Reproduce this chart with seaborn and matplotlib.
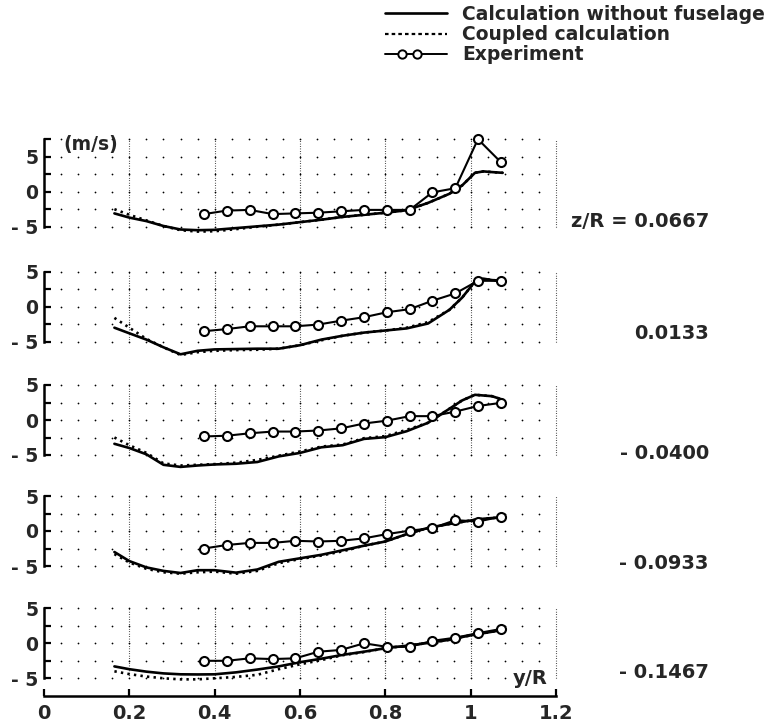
import numpy as np
import pandas as pd
import matplotlib
matplotlib.use("Agg")
import matplotlib.pyplot as plt
from matplotlib.lines import Line2D
from matplotlib.legend_handler import HandlerBase
import seaborn as sns

# ---------------- data ----------------
z_labels = ["z/R = 0.0667", "0.0133", "- 0.0400", "- 0.0933", "- 0.1467"]

exp_x = [0.375, 0.428, 0.482, 0.536, 0.589, 0.643, 0.696, 0.750, 0.803, 0.857, 0.910, 0.964, 1.017, 1.071]
exp_1 = [-3.2, -2.7, -2.6, -3.2, -3.1, -3.0, -2.8, -2.6, -2.6, -2.6, -0.1, 0.5, 7.5, 4.2]
exp_2 = [-3.5, -3.2, -2.8, -2.8, -2.8, -2.55, -2.0, -1.5, -0.8, -0.35, 0.85, 1.9, 3.7, 3.7]
exp_3 = [-2.35, -2.25, -1.9, -1.65, -1.65, -1.5, -1.2, -0.5, -0.1, 0.55, 0.55, 1.2, 2.0, 2.45]
exp_4 = [-2.5, -2.0, -1.7, -1.7, -1.4, -1.5, -1.4, -1.05, -0.45, 0.05, 0.4, 1.55, 1.35, 2.05]
exp_5 = [-2.5, -2.5, -2.15, -2.25, -2.15, -1.2, -0.95, 0.0, -0.5, -0.5, 0.35, 0.8, 1.45, 2.05]

calc_x = [0.165, 0.20, 0.24, 0.28, 0.32, 0.36, 0.40, 0.45, 0.50, 0.55, 0.60, 0.65,
          0.70, 0.75, 0.80, 0.85, 0.90, 0.95, 0.98, 1.01, 1.03, 1.05, 1.075]

nofus_1 = [-3.1, -3.7, -4.2, -4.9, -5.4, -5.5, -5.45, -5.2, -4.95, -4.7, -4.35, -4.0,
           -3.6, -3.3, -3.0, -2.65, -1.6, -0.3, 0.9, 2.7, 2.9, 2.8, 2.7]
coup_1 = [-2.5, -3.3, -4.1, -4.9, -5.5, -5.7, -5.65, -5.35, -5.0, -4.7, -4.35, -4.0,
          -3.6, -3.3, -3.0, -2.65, -1.6, -0.3, 0.9, 2.7, 2.9, 2.8, 2.7]

nofus_2 = [-3.0, -3.8, -4.7, -5.8, -6.8, -6.3, -6.1, -6.05, -6.0, -6.0, -5.5, -4.7,
           -4.15, -3.7, -3.4, -3.1, -2.4, -0.45, 1.3, 3.6, 4.0, 3.8, 3.7]
coup_2 = [-1.6, -3.0, -4.6, -5.8, -6.9, -6.5, -6.3, -6.2, -6.15, -6.0, -5.5, -4.8,
          -4.15, -3.7, -3.4, -3.0, -2.2, -0.45, 1.3, 3.6, 4.0, 3.8, 3.7]

nofus_3 = [-3.4, -4.0, -4.9, -6.4, -6.7, -6.5, -6.35, -6.25, -6.0, -5.2, -4.7, -3.9,
           -3.6, -2.7, -2.45, -1.6, -0.4, 1.6, 2.8, 3.6, 3.5, 3.4, 2.9]
coup_3 = [-2.5, -3.6, -4.7, -6.2, -6.5, -6.4, -6.3, -6.1, -5.7, -5.1, -4.5, -3.8,
          -3.5, -2.6, -2.3, -1.4, -0.4, 1.6, 2.8, 3.6, 3.5, 3.4, 2.9]

nofus_4 = [-3.0, -4.3, -5.2, -5.7, -6.0, -5.6, -5.6, -5.95, -5.5, -4.4, -3.9, -3.4,
           -2.75, -2.1, -1.5, -0.45, 0.45, 1.0, 1.3, 1.6, 1.75, 1.85, 1.95]
coup_4 = [-3.3, -4.5, -5.4, -5.9, -6.1, -5.9, -5.8, -6.1, -5.7, -4.6, -4.0, -3.5,
          -2.9, -2.1, -1.5, -0.45, 0.45, 1.0, 1.3, 1.6, 1.75, 1.85, 1.95]

nofus_5 = [-3.3, -3.7, -4.05, -4.3, -4.43, -4.45, -4.43, -4.15, -3.75, -3.3, -2.7, -2.2,
           -1.65, -1.2, -0.7, -0.35, 0.05, 0.5, 0.9, 1.25, 1.45, 1.65, 1.9]
coup_5 = [-4.0, -4.4, -4.75, -5.0, -5.15, -5.15, -5.0, -4.8, -4.5, -3.7, -3.0, -2.4,
          -1.7, -1.25, -0.7, -0.35, 0.05, 0.5, 0.9, 1.25, 1.45, 1.65, 1.9]

x_ticks = [0, 0.2, 0.4, 0.6, 0.8, 1.0, 1.2]
x_ticklabels = ["0", "0.2", "0.4", "0.6", "0.8", "1", "1.2"]
y_ticks = [-5, -2.5, 0, 2.5, 5]
y_ticklabels = ["- 5", "", "0", "", "5"]
legend_labels = ["Calculation without fuselage", "Coupled calculation", "Experiment"]

exp_all = [exp_1, exp_2, exp_3, exp_4, exp_5]
nofus_all = [nofus_1, nofus_2, nofus_3, nofus_4, nofus_5]
coup_all = [coup_1, coup_2, coup_3, coup_4, coup_5]

# ---------------- layout ----------------
W, H = 767, 727
sns.set_theme(style="white")
plt.rcParams['font.family'] = ['DejaVu Sans']
plt.rcParams['font.weight'] = 'bold'

fig = plt.figure(figsize=(W / 100, H / 100), dpi=100)

zero_px = [191.7, 306.7, 420.0, 531.0, 643.3]   # pixel row of value 0 in each panel
px_per_unit_y = 7.0
ylim = 8.0
x0_px = 44.0
px_per_unit_x = 426.7
xmax = 1.25
label_y = [-4.3, -3.9, -4.8, -4.6, -4.2]

DOT = (0, (0.9, 1.6))
lw_calc = 1.9
for i in range(5):
    h_px = 2 * ylim * px_per_unit_y
    bottom = (H - zero_px[i] - h_px / 2) / H
    ax = fig.add_axes([x0_px / W, bottom, xmax * px_per_unit_x / W, h_px / H])
    ax.set_facecolor("none")
    ax.set_xlim(0, xmax)
    ax.set_ylim(-ylim, ylim)

    top = 7.5 if i == 0 else 5.0
    for xv in x_ticks[1:]:
        ax.plot([xv, xv], [-5, top], color="black", lw=0.8, ls=(0, (0.6, 1.6)), zorder=1)
    gx = [round(0.04 * k, 2) for k in range(1, 30)]
    gy = list(np.arange(-5, top + 0.1, 2.5))
    GX, GY = np.meshgrid(gx, gy)
    ax.scatter(GX.ravel(), GY.ravel(), s=1.6, color="black", linewidths=0, zorder=1)

    df_c = pd.DataFrame({"x": calc_x, "nofus": nofus_all[i], "coup": coup_all[i]})
    sns.lineplot(data=df_c, x="x", y="nofus", ax=ax, color="black", lw=lw_calc,
                 estimator=None, sort=False, zorder=3)
    sns.lineplot(data=df_c, x="x", y="coup", ax=ax, color="black", lw=lw_calc,
                 ls=DOT, estimator=None, sort=False, zorder=3)
    df_e = pd.DataFrame({"x": exp_x, "v": exp_all[i]})
    sns.lineplot(data=df_e, x="x", y="v", ax=ax, color="black", lw=1.5,
                 marker="o", markersize=6.5, markerfacecolor="white",
                 markeredgecolor="black", markeredgewidth=1.5,
                 estimator=None, sort=False, zorder=4)
    for ln in ax.lines:
        ln.set_clip_on(False)

    ax.set_xlabel("")
    ax.set_ylabel("")
    for s in ["top", "right"]:
        ax.spines[s].set_visible(False)
    ax.spines["left"].set_bounds(-5, top)
    ax.spines["left"].set_linewidth(1.8)
    ax.spines["left"].set_color("black")
    yt = y_ticks + ([7.5] if i == 0 else [])
    ytl = y_ticklabels + ([""] if i == 0 else [])
    ax.set_yticks(yt)
    ax.set_yticklabels(ytl, fontsize=13.5, fontweight="bold")
    ax.tick_params(axis="y", direction="in", length=5, width=1.6, pad=4, left=True, color="black")

    if i < 4:
        ax.spines["bottom"].set_visible(False)
        ax.set_xticks([])
    else:
        ax.spines["bottom"].set_position(("data", -7.5))
        ax.spines["bottom"].set_bounds(0, 1.2)
        ax.spines["bottom"].set_linewidth(1.8)
        ax.spines["bottom"].set_color("black")
        ax.set_xticks(x_ticks)
        ax.set_xticklabels(x_ticklabels, fontsize=14, fontweight="bold")
        ax.tick_params(axis="x", direction="in", length=5, width=1.6, pad=6, bottom=True, color="black")
        ax.text(1.18, -5.1, "y/R", ha="right", va="center", fontsize=14, fontweight="bold")

    ax.text(1.558, label_y[i], z_labels[i], ha="right", va="center", fontsize=14,
            fontweight="bold", clip_on=False)
    if i == 0:
        ax.text(0.045, 6.7, "(m/s)", ha="left", va="center", fontsize=13.5, fontweight="bold")


class ExpHandler(HandlerBase):
    def create_artists(self, legend, orig_handle, xdescent, ydescent, width, height,
                       fontsize, trans):
        y = height / 2 - ydescent
        line = Line2D([-xdescent, -xdescent + width], [y, y], color="black", lw=1.4)
        mk = Line2D([-xdescent + width * 0.27, -xdescent + width * 0.52], [y, y], ls="none",
                    marker="o", ms=6, mfc="white", mec="black", mew=1.4)
        line.set_transform(trans)
        mk.set_transform(trans)
        return [line, mk]


exp_handle = Line2D([], [], color="black")
handles = [
    Line2D([], [], color="black", lw=1.9),
    Line2D([], [], color="black", lw=1.6, ls=(0, (1.6, 1.4))),
    exp_handle,
]
fig.legend(handles, legend_labels, loc="upper right", bbox_to_anchor=(765 / W, 1 - 5 / H),
           frameon=False, handlelength=3.3, handletextpad=0.8,
           labelspacing=0.06, borderpad=0, borderaxespad=0,
           prop={"weight": "bold", "size": 13.5},
           handler_map={exp_handle: ExpHandler()})

fig.savefig("out.png", dpi=100)
